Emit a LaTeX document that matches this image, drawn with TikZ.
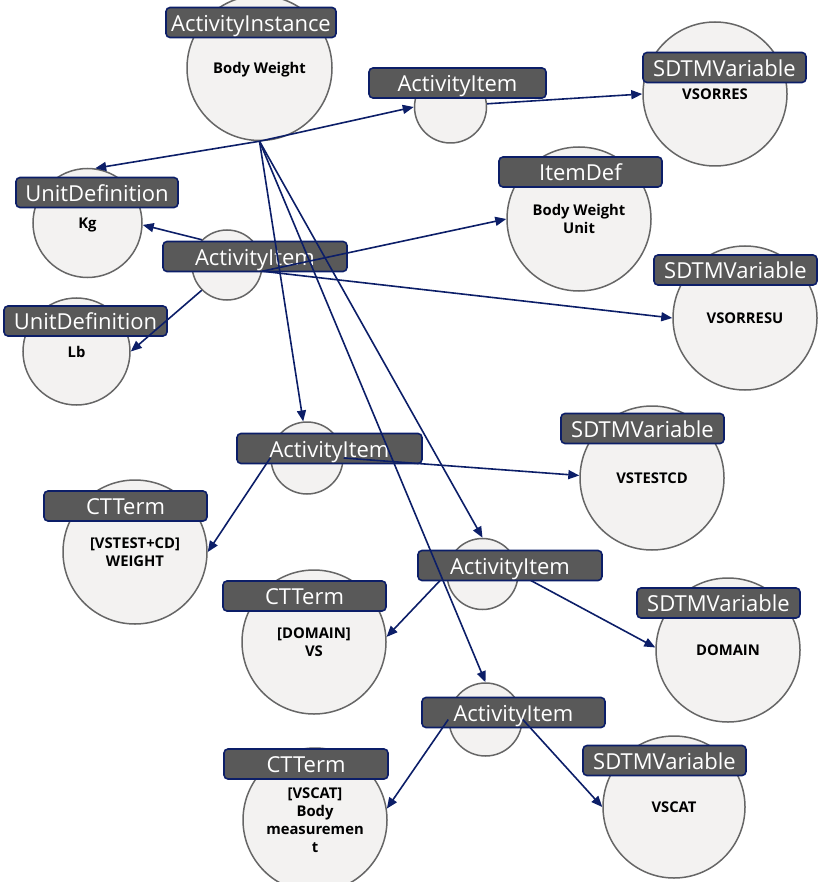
\documentclass[tikz,border=0pt]{standalone}
\usepackage{fontspec}
\setmainfont{Open Sans}
\usetikzlibrary{arrows.meta}
\definecolor{navy}{RGB}{12,30,104}
\definecolor{labfill}{RGB}{89,89,89}
\definecolor{circfill}{RGB}{243,242,241}
\definecolor{circline}{RGB}{102,102,102}
\tikzset{
 ent/.style={circle, draw=circline, line width=1.5pt, fill=circfill, inner sep=0pt, align=center, text depth=0pt, font=\fontsize{14.8}{17.8}\selectfont\bfseries},
 typelab/.style={rectangle, rounded corners=4pt, draw=navy, line width=1.6pt, fill=labfill, text=white, font=\fontsize{22}{24}\selectfont, text height=17.5pt, text depth=0pt, minimum height=30pt, inner sep=0pt},
 link/.style={draw=navy, line width=1.6pt, -{Triangle[length=11pt,width=9pt]}},
}
\begin{document}
\begin{tikzpicture}[x=1pt,y=-1pt]
\useasboundingbox (0,0) rectangle (821,882);
\clip (0,0) rectangle (821,882);
% circles
\node[ent, minimum size=145pt] (bw) at (259.5,68) {Body Weight};
\node[ent, minimum size=72pt] (ai1) at (450.5,107) {};
\node[ent, minimum size=144pt] (vsorres) at (715,94) {VSORRES};
\node[ent, minimum size=144pt] (itemdef) at (579,219) {Body Weight\\Unit};
\node[ent, minimum size=109pt] (kg) at (87.5,223) {Kg};
\node[ent, minimum size=70pt] (ai2) at (227,265) {};
\node[ent, minimum size=107pt] (lb) at (76.5,351.5) {Lb};
\node[ent, minimum size=144pt] (vsorresu) at (745,318) {VSORRESU};
\node[ent, minimum size=72pt] (ai3) at (307,458) {};
\node[ent, minimum size=144pt] (vstestcd) at (652,478) {VSTESTCD};
\node[ent, minimum size=144pt] (weight) at (135,552) {[VSTEST+CD]\\WEIGHT};
\node[ent, minimum size=71pt] (ai4) at (482.5,574) {};
\node[ent, minimum size=144pt] (vs) at (314,642) {[DOMAIN]\\VS};
\node[ent, minimum size=144pt] (domain) at (728,650) {DOMAIN};
\node[ent, minimum size=73pt] (ai5) at (485.5,719.5) {};
\node[ent, minimum size=144pt] (vscatct) at (315,820) {[VSCAT]\\Body\\measuremen\\t};
\node[ent, minimum size=142pt] (vscatsd) at (674,807) {VSCAT};
% edges hidden under labels
\draw[link] (ai4.west) -- (vs.4);
\draw[link] (ai4.east) -- (domain.178);
% labels
\node[typelab, minimum width=170pt] (bwlab) at (251,22.5) {ActivityInstance};
\node[typelab, minimum width=177pt] (ai1lab) at (457.5,83) {ActivityItem};
\node[typelab, minimum width=163pt] (vsorreslab) at (724.5,67.5) {SDTMVariable};
\node[typelab, minimum width=163pt] (itemdeflab) at (580.5,172) {ItemDef};
\node[typelab, minimum width=162pt] (kglab) at (97,192.5) {UnitDefinition};
\node[typelab, minimum width=184pt] (ai2lab) at (255,256.5) {ActivityItem};
\node[typelab, minimum width=163pt] (lblab) at (85.5,321) {UnitDefinition};
\node[typelab, minimum width=163pt] (vsorresulab) at (735.5,270) {SDTMVariable};
\node[typelab, minimum width=185pt] (ai3lab) at (329.5,448.5) {ActivityItem};
\node[typelab, minimum width=163pt] (vstestcdlab) at (642.5,428.5) {SDTMVariable};
\node[typelab, minimum width=163pt] (weightlab) at (125.5,506) {CTTerm};
\node[typelab, minimum width=184pt] (ai4lab) at (510,565.5) {ActivityItem};
\node[typelab, minimum width=163pt] (vslab) at (304.5,596) {CTTerm};
\node[typelab, minimum width=163pt] (domainlab) at (718.5,603) {SDTMVariable};
\node[typelab, minimum width=183pt] (ai5lab) at (513.5,712.5) {ActivityItem};
\node[typelab, minimum width=164pt] (vscatctlab) at (306,764) {CTTerm};
\node[typelab, minimum width=163pt] (vscatsdlab) at (664.5,760.5) {SDTMVariable};
% edges on top
\draw[link] (bw.south) -- (kg.82);
\draw[link] (bw.south) -- (ai1.west);
\draw[link] (ai1.5) -- (vsorres.180);
\draw[link] (ai2.135) -- (kg.-2);
\draw[link] (ai2.225) -- (lb.0);
\draw[link] (ai2.-10) -- (itemdef.180);
\draw[link] (ai2.-10) -- (vsorresu.180);
\draw[link] (bw.south) -- (ai3.96);
\draw[link] (bw.south) -- (ai4.north);
\draw[link] (bw.south) -- (ai5.north);
\draw[link] (ai3.east) -- (vstestcd.178);
\draw[link] (ai3.west) -- (weight.0);
\draw[link] (ai5.west) -- (vscatct.9);
\draw[link] (ai5.east) -- (vscatsd.180);
\end{tikzpicture}
\end{document}
